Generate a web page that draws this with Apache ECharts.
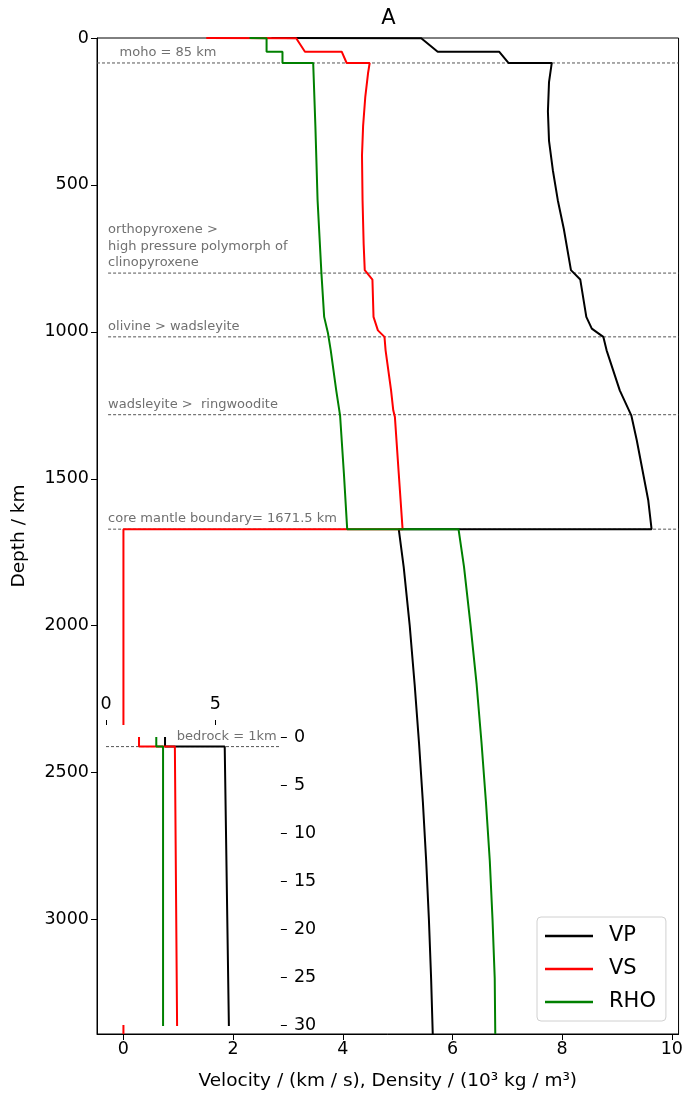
<!DOCTYPE html>
<html>
<head>
<meta charset="utf-8">
<script src="https://cdn.jsdelivr.net/npm/echarts@6/dist/echarts.min.js"></script>
<style>html,body{margin:0;padding:0;background:#fff}#c{width:686px;height:1097px}</style>
</head>
<body>
<div id="c"></div>
<script>
// ---------------- data ----------------
const vpDepth = [0, 1, 1, 46.7, 46.7, 85, 85, 150, 250, 350, 450, 552, 650, 790, 822, 949, 989, 1005, 1017, 1063, 1199, 1284, 1369, 1574, 1671.5, 1671.5, 1800, 2000, 2200, 2400, 2600, 2800, 3000, 3200, 3389.5];
const vpValue = [2.70, 2.70, 5.43, 5.73, 6.85, 7.02, 7.81, 7.76, 7.74, 7.76, 7.83, 7.92, 8.03, 8.16, 8.33, 8.44, 8.54, 8.66, 8.75, 8.81, 9.05, 9.26, 9.36, 9.57, 9.63, 5.02, 5.11, 5.22, 5.31, 5.39, 5.46, 5.52, 5.57, 5.61, 5.64];

const vsDepth = [0, 1, 1, 46.7, 46.7, 85, 85, 120, 200, 300, 400, 552, 700, 790, 822, 949, 995, 1017, 1063, 1199, 1267, 1290, 1482, 1671.5, 1671.5, 3389.5];
const vsValue = [1.51, 1.51, 3.15, 3.31, 3.98, 4.07, 4.49, 4.46, 4.41, 4.37, 4.35, 4.36, 4.38, 4.40, 4.54, 4.56, 4.64, 4.76, 4.78, 4.88, 4.92, 4.95, 5.02, 5.09, 0, 0];

const rhoDepth = [0, 1, 1, 46.7, 46.7, 85, 85, 300, 552, 800, 949, 1005, 1063, 1199, 1284, 1482, 1671.5, 1671.5, 1800, 2000, 2200, 2400, 2600, 2800, 3000, 3200, 3389.5];
const rhoValue = [2.30, 2.30, 2.61, 2.61, 2.90, 2.90, 3.46, 3.50, 3.54, 3.61, 3.66, 3.73, 3.78, 3.88, 3.95, 4.02, 4.08, 6.11, 6.21, 6.33, 6.44, 6.53, 6.61, 6.68, 6.73, 6.77, 6.78];

const boundaryDepths = [85, 800, 1017, 1282, 1671.5];
const boundaryLabels = ['moho = 85 km', 'orthopyroxene >\nhigh pressure polymorph of\nclinopyroxene', 'olivine > wadsleyite', 'wadsleyite >  ringwoodite', 'core mantle boundary= 1671.5 km'];
const bedrockDepth = 1;
const bedrockLabel = 'bedrock = 1km';

const xTicks = [0, 2, 4, 6, 8, 10];
const yTicks = [0, 500, 1000, 1500, 2000, 2500, 3000];
const insetXTicks = [0, 5];
const insetYTicks = [0, 5, 10, 15, 20, 25, 30];
const seriesNames = ['VP', 'VS', 'RHO'];
const seriesColors = ['#000000', '#ff0000', '#008000'];

// ---------------- chart ----------------
const FONT = 'DejaVu Sans';
const X_MIN = -0.482, X_MAX = 10.122, Y_MAX = 3389.5;
const IX_MIN = -0.366, IX_MAX = 8, IY_MIN = -1.25, IY_MAX = 30;
const zip = (d, v) => d.map((y, i) => [v[i], y]);
const curves = [zip(vpDepth, vpValue), zip(vsDepth, vsValue), zip(rhoDepth, rhoValue)];

const chart = echarts.init(document.getElementById('c'), null, {renderer: 'canvas'});

const series = [];
curves.forEach((data, i) => {
  series.push({
    name: seriesNames[i], type: 'line', data: data, xAxisIndex: 0, yAxisIndex: 0,
    showSymbol: false, symbol: 'none', color: seriesColors[i],
    lineStyle: {width: 2, color: seriesColors[i]}, z: 2, clip: true, silent: true
  });
});
curves.forEach((data, i) => {
  series.push({
    name: seriesNames[i], type: 'line', data: data, xAxisIndex: 1, yAxisIndex: 1,
    showSymbol: false, symbol: 'none', color: seriesColors[i],
    lineStyle: {width: 2, color: seriesColors[i]}, z: 7, clip: true, silent: true
  });
});
const dashStyle = {width: 1, color: '#555', type: [3, 2]};
boundaryDepths.forEach((d, i) => {
  series.push({
    type: 'line', xAxisIndex: 0, yAxisIndex: 0, symbol: 'none', silent: true, z: 1,
    data: [[i === 0 ? X_MIN : -0.28, d], [X_MAX, d]], lineStyle: dashStyle
  });
});
series.push({
  type: 'line', xAxisIndex: 1, yAxisIndex: 1, symbol: 'none', silent: true, z: 6,
  data: [[0, bedrockDepth], [IX_MAX, bedrockDepth]], lineStyle: dashStyle
});

const plain = v => String(v);
const tickLabel = {fontFamily: FONT, fontSize: 17.5, color: '#000', formatter: plain};

chart.setOption({
  animation: false,
  backgroundColor: '#fff',
  grid: [
    {left: 97, right: 6, top: 38, bottom: 63, show: true, borderColor: '#000', borderWidth: 1, backgroundColor: 'transparent', z: 0},
    {left: 98, width: 182.9, top: 725, height: 300, show: true, borderWidth: 0, backgroundColor: '#fff', z: 5}
  ],
  xAxis: [
    {type: 'value', gridIndex: 0, min: X_MIN, max: X_MAX,
     axisLine: {show: true, onZero: false, lineStyle: {color: '#000', width: 1}},
     axisTick: {show: true, length: 6, customValues: xTicks, lineStyle: {color: '#000'}},
     axisLabel: Object.assign({margin: 6, customValues: xTicks}, tickLabel),
     splitLine: {show: false},
     name: 'Velocity / (km / s), Density / (10³ kg / m³)', nameLocation: 'middle', nameGap: 38,
     nameTextStyle: {fontFamily: FONT, fontSize: 18.5, color: '#000'}},
    {type: 'value', gridIndex: 1, position: 'top', min: IX_MIN, max: IX_MAX, z: 7,
     axisLine: {show: false, onZero: false},
     axisTick: {show: true, length: 5, customValues: insetXTicks, lineStyle: {color: '#000'}},
     axisLabel: Object.assign({margin: 12, customValues: insetXTicks}, tickLabel),
     splitLine: {show: false}}
  ],
  yAxis: [
    {type: 'value', gridIndex: 0, inverse: true, min: 0, max: Y_MAX,
     axisLine: {show: true, onZero: false, lineStyle: {color: '#000', width: 1}},
     axisTick: {show: true, length: 6, customValues: yTicks, lineStyle: {color: '#000'}},
     axisLabel: Object.assign({margin: 8, customValues: yTicks}, tickLabel),
     splitLine: {show: false},
     name: 'Depth / km', nameLocation: 'middle', nameGap: 68,
     nameTextStyle: {fontFamily: FONT, fontSize: 18.5, color: '#000'}},
    {type: 'value', gridIndex: 1, position: 'right', inverse: true, min: IY_MIN, max: IY_MAX, z: 7,
     axisLine: {show: false, onZero: false},
     axisTick: {show: true, length: 6, customValues: insetYTicks, lineStyle: {color: '#000'}},
     axisLabel: Object.assign({margin: 13, customValues: insetYTicks}, tickLabel),
     splitLine: {show: false}}
  ],
  legend: {
    data: seriesNames, orient: 'vertical', left: 537, top: 917,
    icon: 'rect', itemWidth: 48, itemHeight: 2.5, itemGap: 11,
    textStyle: {fontFamily: FONT, fontSize: 21, color: '#000', lineHeight: 22, padding: [0, 0, 0, 11]},
    borderColor: '#d0d0d0', borderWidth: 1, borderRadius: 4, padding: [8, 10, 8, 8],
    backgroundColor: '#fff', selectedMode: false, z: 10
  },
  series: series
});

// annotations placed from data coordinates
const labelX = [-0.07, -0.28, -0.28, -0.28, -0.28];
const graphics = [{
  type: 'text', x: 388.5, y: 19, z: 20,
  style: {text: 'A', font: '21px "DejaVu Sans"', fill: '#000', textAlign: 'center', textVerticalAlign: 'middle'}
}];
boundaryDepths.forEach((d, i) => {
  const p = chart.convertToPixel({gridIndex: 0}, [labelX[i], d]);
  graphics.push({type: 'text', x: p[0], y: p[1] - 2, z: 20, silent: true,
    style: {text: boundaryLabels[i], font: '13px "DejaVu Sans"', fill: '#707070', textAlign: 'left', textVerticalAlign: 'bottom', lineHeight: 16.5}});
});
const pb = chart.convertToPixel({gridIndex: 1}, [3.24, bedrockDepth]);
graphics.push({type: 'text', x: pb[0], y: pb[1] - 3, z: 20, silent: true,
  style: {text: bedrockLabel, font: '13px "DejaVu Sans"', fill: '#707070', textAlign: 'left', textVerticalAlign: 'bottom'}});
chart.setOption({graphic: graphics});
</script>
</body>
</html>
